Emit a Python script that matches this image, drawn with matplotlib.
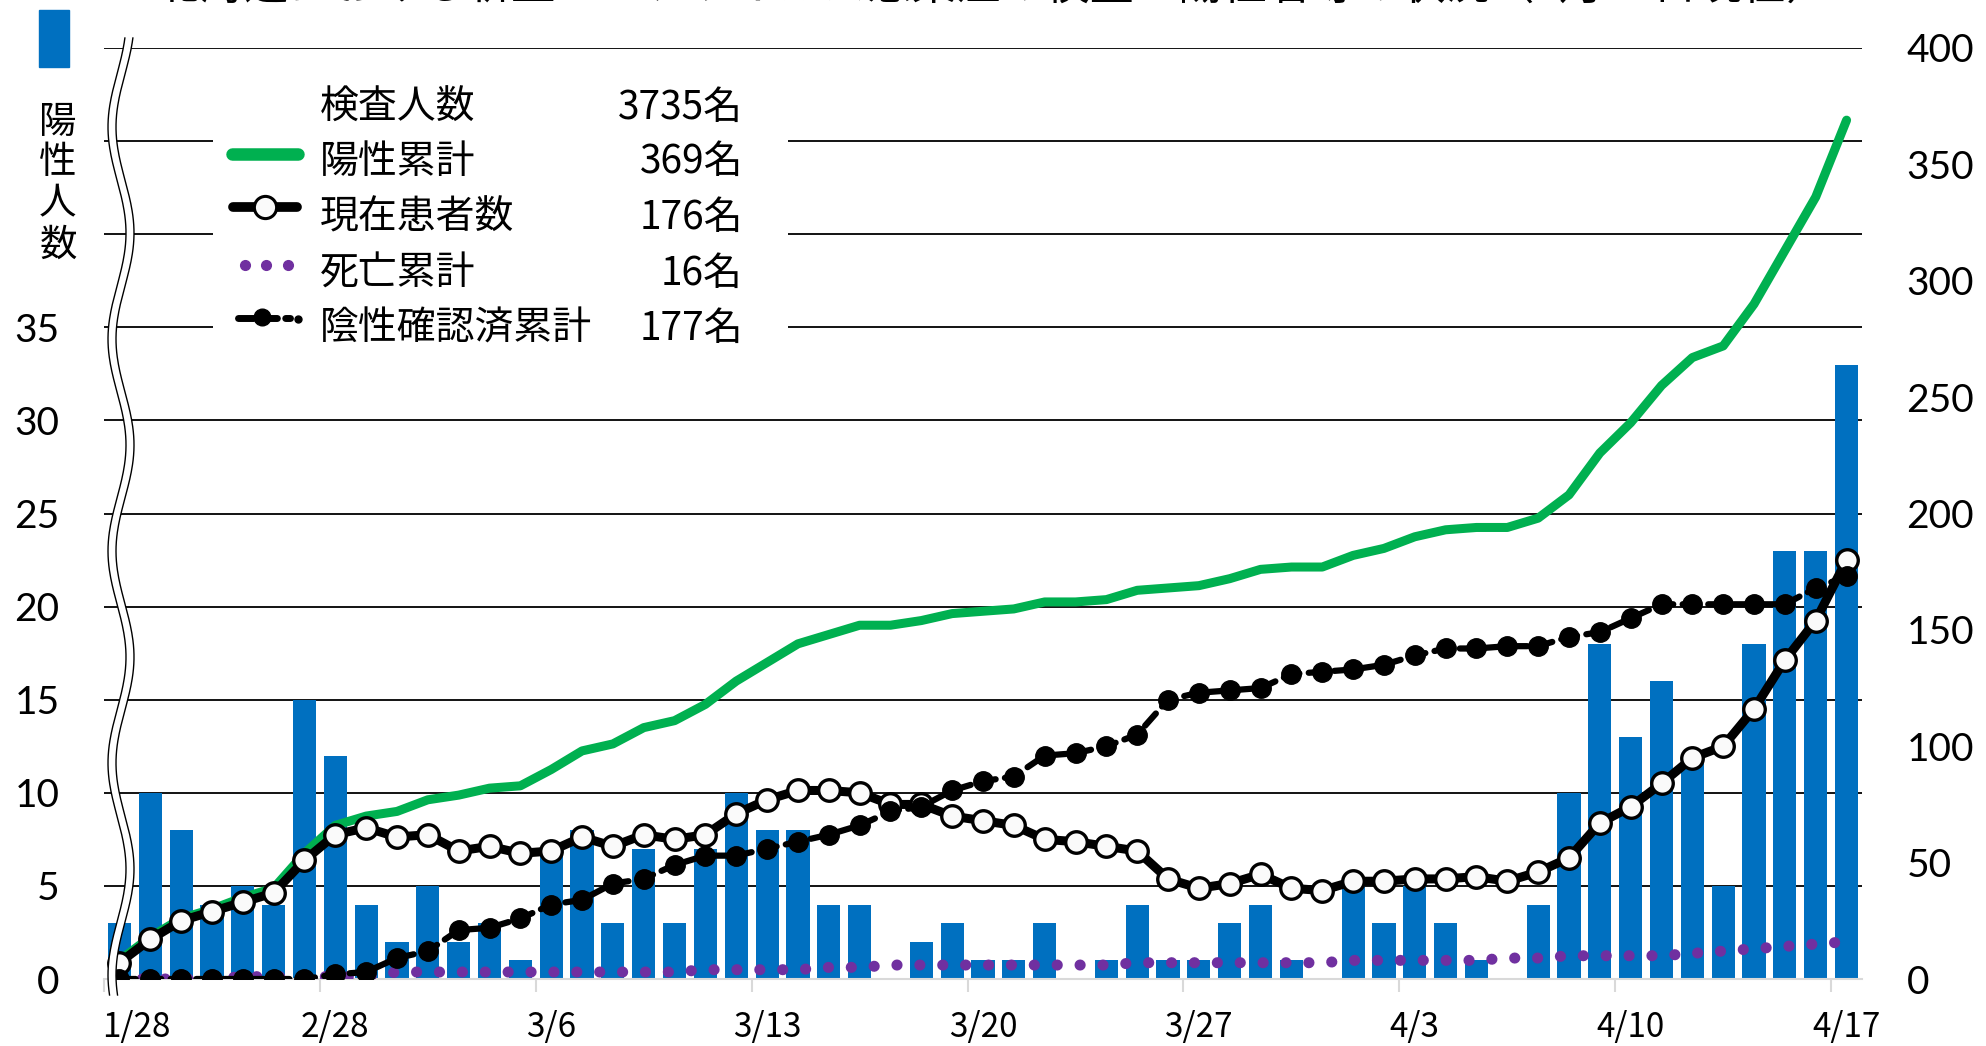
import matplotlib
matplotlib.use("Agg")
import matplotlib.pyplot as plt
import matplotlib.transforms as mtransforms
from matplotlib.lines import Line2D
from matplotlib.patches import Rectangle, Polygon
import numpy as np

plt.rcParams['font.family'] = ['Noto Sans CJK JP', 'DejaVu Sans']

# ---- data (index 0 = 1/28 ... index 56 = 4/17) ----
tick_labels = ["1/28", "2/28", "3/6", "3/13", "3/20", "3/27", "4/3", "4/10", "4/17"]
tick_index = [0, 7, 14, 21, 28, 35, 42, 49, 56]

daily_positive = [3, 10, 8, 4, 5, 4, 15, 12, 4, 2, 5, 2, 3, 1, 7, 8, 3, 7, 3, 7,
                  10, 8, 8, 4, 4, 0, 2, 3, 1, 1, 3, 0, 1, 4, 1, 1, 3, 4, 1, 0,
                  5, 3, 5, 3, 1, 0, 4, 10, 18, 13, 16, 12, 5, 18, 23, 23, 33]

positive_total = [8, 18, 26, 30, 35, 39, 54, 66, 70, 72, 77, 79, 82, 83, 90, 98, 101, 108, 111, 118,
                  128, 136, 144, 148, 152, 152, 154, 157, 158, 159, 162, 162, 163, 167, 168, 169, 172, 176, 177, 177,
                  182, 185, 190, 193, 194, 194, 198, 208, 226, 239, 255, 267, 272, 290, 313, 336, 369]

current_patients = [7, 17, 25, 29, 33, 37, 51, 62, 65, 61, 62, 55, 57, 54, 55, 61, 57, 62, 60, 62,
                    71, 77, 81, 81, 80, 75, 75, 70, 68, 66, 60, 59, 57, 55, 43, 39, 41, 45, 39, 38,
                    42, 42, 43, 43, 44, 42, 46, 52, 67, 74, 84, 95, 100, 116, 137, 154, 180]

deaths_total = [0, 0, 0, 0, 1, 1, 1, 1, 1, 3, 3, 3, 3, 3, 3, 3, 3, 3, 3, 4,
                4, 4, 4, 5, 5, 6, 6, 6, 6, 6, 6, 6, 6, 7, 7, 7, 7, 7, 7, 7,
                8, 8, 8, 8, 8, 9, 9, 10, 10, 10, 10, 11, 12, 13, 14, 15, 16]

negative_total = [0, 0, 0, 0, 0, 0, 0, 2, 3, 9, 12, 21, 22, 26, 32, 34, 41, 43, 49, 53,
                  53, 56, 59, 62, 66, 72, 74, 81, 85, 87, 96, 97, 100, 105, 120, 123, 124, 125, 131, 132,
                  133, 135, 139, 142, 142, 143, 143, 147, 149, 155, 161, 161, 161, 161, 161, 168, 173]

legend_names = ["検査人数", "陽性累計", "現在患者数", "死亡累計", "陰性確認済累計"]
legend_counts = ["3735名", "369名", "176名", "16名", "177名"]

BLUE = "#0070C0"
GREEN = "#00B050"
PURPLE = "#7030A0"

W, H = 1986, 1046


def fx(px):
    return px / W


def fy(py):
    return 1 - py / H


fig = plt.figure(figsize=(W / 100, H / 100), dpi=100)
ax = fig.add_axes([fx(104), fy(979), fx(1862) - fx(104), fy(48) - fy(979)])
ax2 = ax.twinx()

x = np.arange(len(daily_positive))

# bars (left axis)
ax.bar(x, daily_positive, width=0.75, color=BLUE, zorder=2)
for v in range(5, 55, 5):
    ax.axhline(v, color="black", lw=1.3, zorder=1)
ax.set_xlim(-0.5, len(x) - 0.5)
ax.set_ylim(0, 50)
ax.set_yticks(range(0, 40, 5))
ax.set_yticklabels([str(v) for v in range(0, 40, 5)], fontsize=28, family="Lato")
ax.tick_params(axis="y", length=0, pad=32)
ax.set_xticks(tick_index)
ax.set_xticklabels(tick_labels, fontsize=24)
ax.tick_params(axis="x", which="major", length=0, pad=22)
ax.set_xticks(np.arange(-0.5, len(x), 7), minor=True)
ax.tick_params(axis="x", which="minor", length=9, width=1.5, color="#D9D9D9")
# first date label sits a little to the right, as in the source
first = ax.get_xticklabels()[0]
first.set_transform(first.get_transform() +
                    mtransforms.ScaledTranslation(0.17, 0, fig.dpi_scale_trans))
for s in ["top", "left", "right"]:
    ax.spines[s].set_visible(False)
ax.spines["bottom"].set_color("#D9D9D9")
ax.spines["bottom"].set_linewidth(1.5)
ax.spines["bottom"].set_zorder(3)

# lines (right axis)
ax2.plot(x, positive_total, color=GREEN, lw=6.5, solid_capstyle="round", zorder=2)
ax2.plot(x, current_patients, color="black", lw=6.5, marker="o", markersize=15.5,
         markerfacecolor="#FAFAFA", markeredgecolor="black", markeredgewidth=2.4, zorder=3)
ax2.plot(x, deaths_total, color=PURPLE, lw=8, linestyle=(0, (0.01, 2.05)),
         dash_capstyle="round", zorder=4)
ax2.plot(x, negative_total, color="black", lw=4.5, linestyle=(0, (2.6, 1.5)),
         dash_capstyle="round", marker="o", markersize=14, zorder=5)
ax2.set_ylim(0, 400)
ax2.set_yticks(range(0, 450, 50))
ax2.set_yticklabels([str(v) for v in range(0, 450, 50)], fontsize=28, family="Lato")
ax2.tick_params(axis="y", length=0, pad=32)
for s in ax2.spines.values():
    s.set_visible(False)

# clipped title at the very top
fig.text(0.5, fy(-14), "北海道における新型コロナウイルス感染症の検査・陽性者等の状況（4月17日現在）",
         fontsize=32, ha="center", va="center")

# blue swatch and stacked axis label
fig.add_artist(Rectangle((fx(39), fy(67)), fx(69) - fx(39), fy(10) - fy(67),
                         transform=fig.transFigure, color=BLUE, zorder=5))
for i, ch in enumerate("陽性人数"):
    fig.text(fx(58), fy(122 + 41 * i), ch, fontsize=27, ha="center", va="center")

# axis break marks
yy = np.linspace(38, 995, 400)
xc = 121 - 9 * np.cos(2 * np.pi * (yy - 127) / 212)
band = np.concatenate([np.column_stack([fx(xc - 4), fy(yy)]),
                       np.column_stack([fx(xc + 4), fy(yy)])[::-1]])
fig.add_artist(Polygon(band, closed=True, transform=fig.transFigure,
                       facecolor="white", edgecolor="none", zorder=6))
for off in (-4, 4):
    fig.add_artist(Line2D(fx(xc + off), fy(yy), transform=fig.transFigure,
                          color="black", lw=1.0, zorder=7))

# legend box
fig.add_artist(Rectangle((fx(213), fy(352)), fx(788) - fx(213), fy(72) - fy(352),
                         transform=fig.transFigure, facecolor="white", edgecolor="none", zorder=5))
rows = [108, 162, 218, 274, 329]
for name, cnt, ry in zip(legend_names, legend_counts, rows):
    fig.text(fx(320), fy(ry), name, fontsize=28, ha="left", va="center", zorder=8)
    fig.text(fx(743), fy(ry), cnt, fontsize=28, ha="right", va="center", zorder=8)

fig.add_artist(Line2D([fx(232), fx(298)], [fy(154)] * 2, transform=fig.transFigure,
                      color=GREEN, lw=9, solid_capstyle="round", zorder=8))
fig.add_artist(Line2D([fx(233), fx(297)], [fy(207)] * 2, transform=fig.transFigure,
                      color="black", lw=7, solid_capstyle="round", zorder=8))
fig.add_artist(Line2D([fx(265)], [fy(207)], transform=fig.transFigure, marker="o",
                      markersize=16, markerfacecolor="#FAFAFA", markeredgecolor="black",
                      markeredgewidth=2.2, zorder=9))
fig.add_artist(Line2D([fx(245), fx(266), fx(288)], [fy(265)] * 3, transform=fig.transFigure,
                      linestyle="none", marker="o", markersize=7, color=PURPLE, zorder=8))
fig.add_artist(Line2D([fx(238), fx(290)], [fy(318)] * 2, transform=fig.transFigure,
                      color="black", lw=5, linestyle=(0, (2.2, 1.2)), dash_capstyle="round", zorder=8))
fig.add_artist(Line2D([fx(262)], [fy(317)], transform=fig.transFigure, marker="o",
                      markersize=12, color="black", zorder=9))
fig.add_artist(Line2D([fx(298)], [fy(319)], transform=fig.transFigure, marker="o",
                      markersize=5, color="black", zorder=9))

fig.savefig("out.png", dpi=100)
